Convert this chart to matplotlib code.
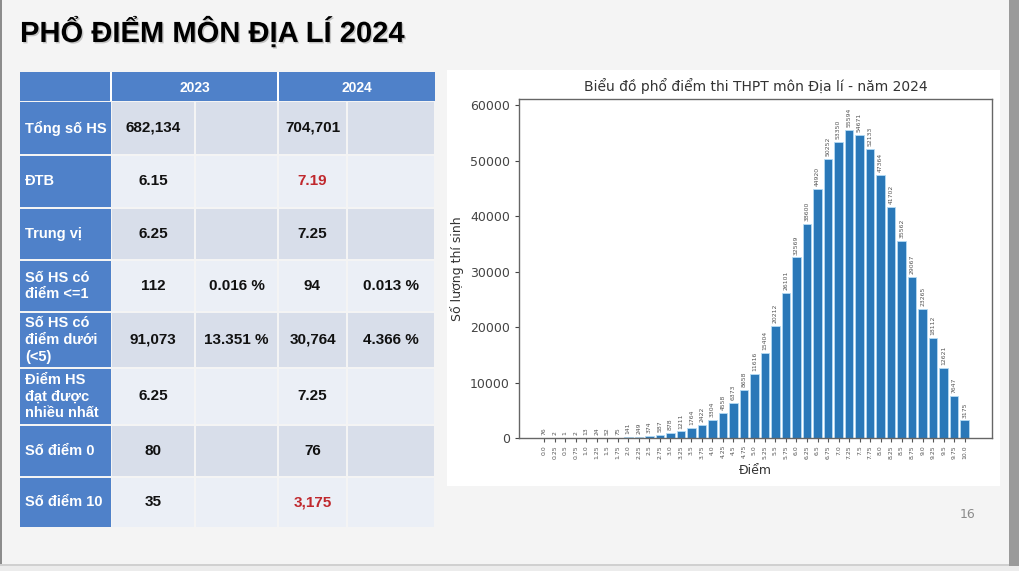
import matplotlib.pyplot as plt
from matplotlib.patches import Rectangle
import matplotlib.patheffects as pe

# du lieu pho diem 2024
diem = ['0.0', '0.25', '0.5', '0.75', '1.0', '1.25', '1.5', '1.75', '2.0', '2.25',
        '2.5', '2.75', '3.0', '3.25', '3.5', '3.75', '4.0', '4.25', '4.5', '4.75',
        '5.0', '5.25', '5.5', '5.75', '6.0', '6.25', '6.5', '6.75', '7.0', '7.25',
        '7.5', '7.75', '8.0', '8.25', '8.5', '8.75', '9.0', '9.25', '9.5', '9.75', '10.0']
so_luong = [76, 2, 1, 2, 13, 24, 52, 75, 141, 249,
            374, 587, 878, 1211, 1764, 2422, 3304, 4558, 6373, 8658,
            11616, 15404, 20212, 26101, 32569, 38600, 44920, 50252, 53350, 55594,
            54671, 52133, 47364, 41702, 35562, 29067, 23265, 18112, 12621, 7647, 3175]

# bang so sanh
nam = ['2023', '2024']
hang = ['Tổng số HS', 'ĐTB', 'Trung vị', 'Số HS có\nđiểm <=1', 'Số HS có\nđiểm dưới\n(<5)',
        'Điểm HS\nđạt được\nnhiều nhất', 'Số điểm 0', 'Số điểm 10']
gt_2023 = ['682,134', '6.15', '6.25', '112', '91,073', '6.25', '80', '35']
pt_2023 = ['', '', '', '0.016 %', '13.351 %', '', '', '']
gt_2024 = ['704,701', '7.19', '7.25', '94', '30,764', '7.25', '76', '3,175']
pt_2024 = ['', '', '', '0.013 %', '4.366 %', '', '', '']
do_2024 = [False, True, False, False, False, False, False, True]

W, H = 1020, 571
fig = plt.figure(figsize=(W / 100, H / 100), dpi=100)
fig.patch.set_facecolor('#f4f4f4')


def fx(x):
    return x / W


def fy(y):
    return 1 - y / H


def rect(x0, y0, x1, y1, color, z=1):
    fig.patches.append(Rectangle((fx(x0), fy(y1)), fx(x1) - fx(x0), fy(y0) - fy(y1),
                                 transform=fig.transFigure, facecolor=color,
                                 edgecolor='none', zorder=z))


# vien slide
rect(0, 0, 2, 566, '#8c8c8c')
rect(0, 564, W, 566, '#d0d0d0')
rect(0, 566, W, H, '#ececec')
rect(1009, 0, W, 566, '#9a9a9a')

# tieu de
fig.text(fx(20), fy(32), 'PHỔ ĐIỂM MÔN ĐỊA LÍ 2024', fontsize=21, fontweight='bold',
         family='Liberation Sans', va='center', ha='left', color='black',
         path_effects=[pe.withSimplePatchShadow(offset=(1, -1), alpha=0.2)])

# bang
xs = [20, 111, 195, 278, 347, 435]
ys = [72, 101, 155, 208, 260, 312, 368, 425, 477, 528]
xanh = '#4f81c9'
rect(xs[0], ys[0], xs[-1], ys[1], xanh, 2)
for x in xs[1:-1:2]:
    rect(x - 1, ys[0], x + 1, ys[1], 'white', 3)
fig.text(fx((xs[1] + xs[3]) / 2), fy((ys[0] + ys[1]) / 2 + 1), nam[0], color='white',
         fontsize=10, fontweight='bold', family='Liberation Sans', ha='center', va='center')
fig.text(fx((xs[3] + xs[5]) / 2), fy((ys[0] + ys[1]) / 2 + 1), nam[1], color='white',
         fontsize=10, fontweight='bold', family='Liberation Sans', ha='center', va='center')

for i in range(len(hang)):
    y0, y1 = ys[i + 1], ys[i + 2]
    nen = '#d8deea' if i % 2 == 0 else '#ebeff6'
    rect(xs[0], y0 + 1, xs[1], y1 - 1, xanh, 2)
    for j in range(1, 5):
        rect(xs[j] + 1, y0 + 1, xs[j + 1] - 1, y1 - 1, nen, 2)
    yc = fy((y0 + y1) / 2)
    fig.text(fx(25), yc, hang[i], color='white', fontsize=10.5, fontweight='bold',
             family='Liberation Sans', ha='left', va='center', linespacing=1.25)
    cells = [gt_2023[i], pt_2023[i], gt_2024[i], pt_2024[i]]
    for j, t in enumerate(cells):
        mau = '#c0282d' if (j == 2 and do_2024[i]) else '#111111'
        fig.text(fx((xs[j + 1] + xs[j + 2]) / 2), yc, t, color=mau, fontsize=11,
                 fontweight='bold', family='Liberation Sans', ha='center', va='center')

# khung bieu do
rect(447, 70, 1000, 486, 'white', 1)

ax = fig.add_axes([fx(519), fy(438), fx(992) - fx(519), fy(99) - fy(438)])
ax.set_zorder(5)
vt = list(range(len(diem)))
bars = ax.bar(vt, so_luong, width=0.8, color='#2a78b8', edgecolor='#b5dbf3', linewidth=0.6)
ax.bar_label(bars, labels=[str(v) for v in so_luong], rotation=90, fontsize=4.4,
             padding=2, color='#555555')
ax.set_xticks(vt)
ax.set_xticklabels(diem, rotation=90, fontsize=4.4, color='#555555')
ax.set_xlim(-2.4, 42.6)
ax.set_ylim(0, 61100)
ax.set_yticks([0, 10000, 20000, 30000, 40000, 50000, 60000])
ax.tick_params(axis='y', labelsize=9, colors='#444444', length=3)
ax.tick_params(axis='x', length=3, pad=2, colors='#555555')
for s in ax.spines.values():
    s.set_color('#666666')
    s.set_linewidth(1)
ax.set_title('Biểu đồ phổ điểm thi THPT môn Địa lí - năm 2024', fontsize=10,
             color='#333333', pad=6)
ax.set_ylabel('Số lượng thí sinh', fontsize=9, color='#333333')
ax.set_xlabel('Điểm', fontsize=9, color='#333333', labelpad=4)

# so trang
fig.text(fx(968), fy(515), '16', fontsize=9, color='#8a8a8a', ha='center', va='center')

plt.savefig('out.png', dpi=100, facecolor=fig.get_facecolor())
